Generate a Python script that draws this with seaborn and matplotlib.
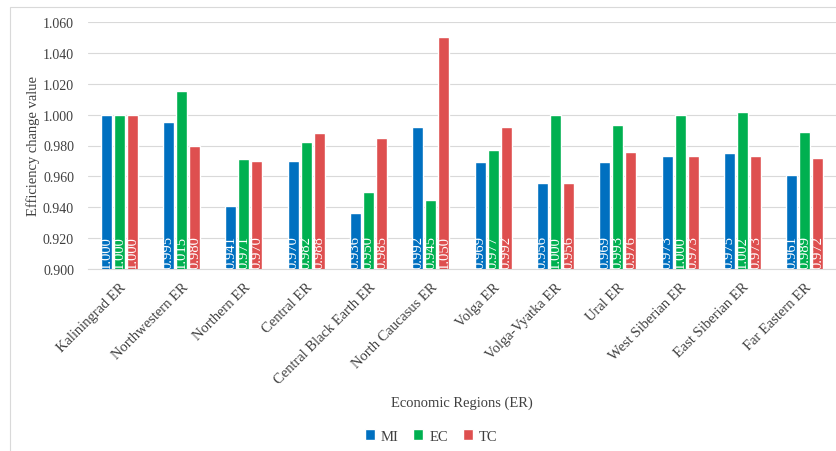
import numpy as np
import pandas as pd
import matplotlib
matplotlib.use("Agg")
import matplotlib.pyplot as plt
import seaborn as sns
from matplotlib.patches import Rectangle

regions = ["Kaliningrad ER", "Northwestern ER", "Northern ER", "Central ER",
           "Central Black Earth ER", "North Caucasus ER", "Volga ER",
           "Volga-Vyatka ER", "Ural ER", "West Siberian ER", "East Siberian ER",
           "Far Eastern ER"]
mi = [1.000, 0.995, 0.941, 0.970, 0.936, 0.992, 0.969, 0.956, 0.969, 0.973, 0.975, 0.961]
ec = [1.000, 1.015, 0.971, 0.982, 0.950, 0.945, 0.977, 1.000, 0.993, 1.000, 1.002, 0.989]
tc = [1.000, 0.980, 0.970, 0.988, 0.985, 1.050, 0.992, 0.956, 0.976, 0.973, 0.973, 0.972]
series = ["MI", "EC", "TC"]
yticks = [0.900, 0.920, 0.940, 0.960, 0.980, 1.000, 1.020, 1.040, 1.060]

colors = {"MI": "#0070C0", "EC": "#00B050", "TC": "#DE4F4F"}

df = pd.DataFrame({
    "Region": regions * 3,
    "Series": [s for s in series for _ in regions],
    "Value": mi + ec + tc,
})

sns.set_style("white")
plt.rcParams["font.family"] = ["Liberation Serif", "DejaVu Serif"]

W, H = 836, 452
fig = plt.figure(figsize=(W / 100, H / 100), dpi=100)
ax = fig.add_axes([88 / W, 1 - 270 / H, 748 / W, 247 / H])

sns.barplot(data=df, x="Region", y="Value", hue="Series", order=regions,
            hue_order=series, palette=colors, width=0.627, gap=0.15,
            saturation=1, ax=ax, errorbar=None)

ax.set_ylim(0.9, 1.06)
ax.set_xlim(-0.5, len(regions) - 0.5)
ax.set_yticks(yticks)
ax.set_yticklabels([f"{v:.3f}" for v in yticks], fontsize=10, color="#404040")
ax.grid(axis="y", color="#D9D9D9", linewidth=0.8)
ax.set_axisbelow(True)
for s in ["left", "right", "top"]:
    ax.spines[s].set_visible(False)
ax.spines["bottom"].set_color("#D9D9D9")
ax.spines["bottom"].set_linewidth(0.8)
ax.tick_params(axis="y", length=0, pad=10)

ax.set_xticks(np.arange(len(regions)))
ax.set_xticklabels(regions, rotation=45, ha="right", rotation_mode="anchor",
                   fontsize=10.5, color="#404040")
ax.set_xticks(np.arange(-0.5, len(regions), 1), minor=True)
ax.tick_params(axis="x", which="major", length=0, pad=8)
ax.tick_params(axis="x", which="minor", length=6, color="#D9D9D9", width=0.8)

ax.set_xlabel("Economic Regions (ER)", fontsize=10.5, color="#404040", va="center")
ax.xaxis.set_label_coords(0.5, -0.538)
ax.set_ylabel("Efficiency change value", fontsize=10.5, color="#404040",
              va="center", ha="center")
ax.yaxis.set_label_coords(-0.0735, 0.5)

for cont in ax.containers:
    for p in cont:
        ax.text(p.get_x() + p.get_width() / 2, 0.9008, f"{p.get_height():.3f}",
                rotation=90, ha="center", va="bottom", color="white",
                fontsize=10.5, clip_on=True)

sns.move_legend(ax, "center", bbox_to_anchor=(431 / W, 1 - 437 / H),
                bbox_transform=fig.transFigure, ncol=3, frameon=False, title=None,
                handlelength=0.7, handleheight=0.7, columnspacing=1.0,
                handletextpad=0.4, fontsize=10.5)
for t in ax.get_legend().get_texts():
    t.set_color("#404040")

fig.patches.append(Rectangle((10 / W, -0.1), 1.2, 1.1 - 8 / H,
                             transform=fig.transFigure, fill=False,
                             edgecolor="#D9D9D9", linewidth=0.8, zorder=-1))

fig.savefig("out.png", dpi=100)
